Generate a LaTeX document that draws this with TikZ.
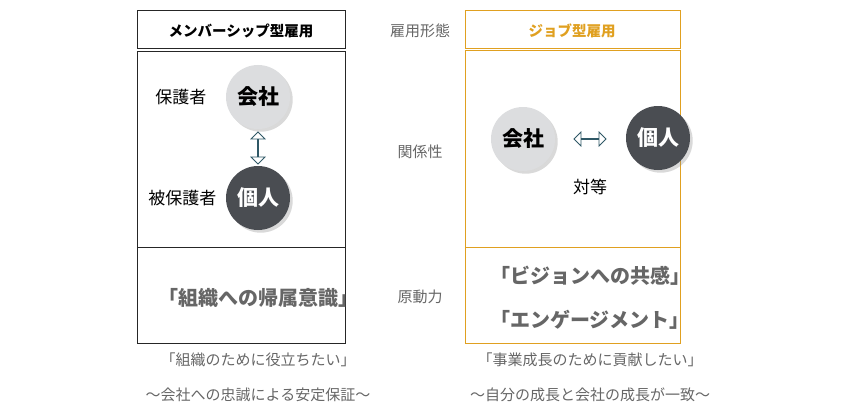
\documentclass[tikz,border=0pt]{standalone}
\usepackage{fontspec}
\setmainfont{Noto Sans CJK JP}
\usetikzlibrary{shapes.arrows,shadows}
\definecolor{org}{HTML}{E0A020}
\definecolor{dk}{HTML}{4A4D52}
\definecolor{lt}{HTML}{DCDDDF}
\definecolor{gt}{HTML}{666666}
\definecolor{ar}{HTML}{2F5866}
\tikzset{
 lbox/.style={draw=black!85,line width=1pt},
 rbox/.style={draw=org,line width=1pt},
 lc/.style={circle,minimum size=64pt,fill=lt,inner sep=0pt,font=\bfseries\fontsize{21}{21}\selectfont,drop shadow={opacity=0.3}},
 dc/.style={circle,minimum size=64pt,fill=dk,text=white,inner sep=0pt,font=\bfseries\fontsize{21}{21}\selectfont,drop shadow={opacity=0.3}},
 dar/.style={double arrow,draw=ar,fill=white,line width=0.8pt,double arrow head extend=5pt,minimum height=32pt,minimum width=14pt,inner sep=0pt},
 mid/.style={text=gt,font=\fontsize{15}{15}\selectfont},
 big/.style={text=gt,font=\bfseries\fontsize{20}{20}\selectfont},
 captxt/.style={text=gt,font=\fontsize{15}{15}\selectfont},
 lab/.style={font=\fontsize{17}{17}\selectfont}
}
\begin{document}
\begin{tikzpicture}[x=1pt,y=-1pt]
\useasboundingbox (0,0) rectangle (846,420);
\draw[lbox] (137,11) rectangle (345,49);
\draw[lbox] (137,52) rectangle (345,247);
\draw[lbox] (137,247) rectangle (345,343);
\draw[rbox] (465,11) rectangle (680,49);
\draw[rbox] (465,51) rectangle (680,247);
\draw[rbox] (465,247) rectangle (680,343);
\node[font=\bfseries\fontsize{14.5}{14.5}\selectfont] (h1) at (241,31) {メンバーシップ型雇用};
\node[text=org,font=\bfseries\fontsize{14.5}{14.5}\selectfont] (h2) at (572,31) {ジョブ型雇用};
\node[mid] (m1) at (420,31) {雇用形態};
\node[mid] (m2) at (420,152) {関係性};
\node[mid] (m3) at (420,297) {原動力};
\node[lc] (c1) at (258,97) {会社};
\node[dc] (p1) at (258,198) {個人};
\node[lab,anchor=east] (t1) at (210,97) {保護者};
\node[lab,anchor=east] (t2) at (220,198) {被保護者};
\node[dar,rotate=90] (a1) at (258,148) {};
\node[lc] (c2) at (523,139) {会社};
\node[dc] (p2) at (658,138) {個人};
\node[dar] (a2) at (590,139) {};
\node[lab] (eq) at (590,187) {対等};
\node[big] (b1) at (258,298) {「組織への帰属意識」};
\node[big] (b2) at (590,276) {「ビジョンへの共感」};
\node[big] (b3) at (590,320) {「エンゲージメント」};
\node[captxt] (k1) at (258,360) {「組織のために役立ちたい」};
\node[captxt] (k2) at (258,395) {～会社への忠誠による安定保証～};
\node[captxt] (k3) at (590,360) {「事業成長のために貢献したい」};
\node[captxt] (k4) at (590,395) {～自分の成長と会社の成長が一致～};
\end{tikzpicture}
\end{document}
